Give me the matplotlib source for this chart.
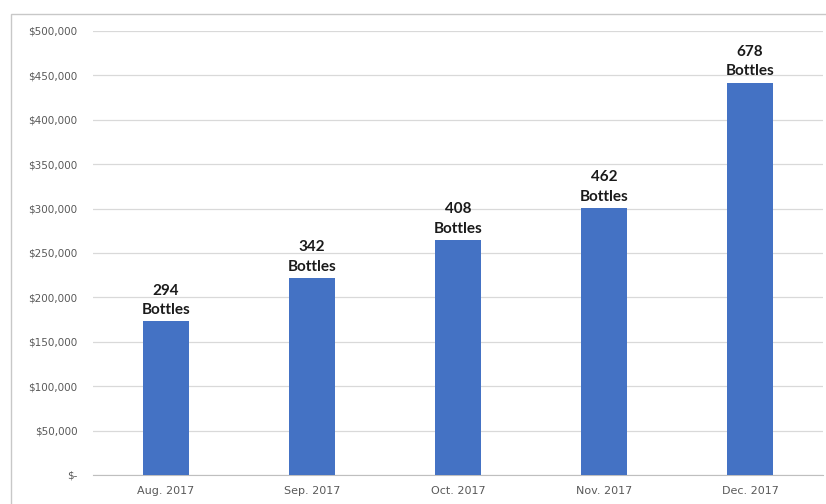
import matplotlib
matplotlib.use("Agg")
import matplotlib.pyplot as plt
from matplotlib.patches import Rectangle
from matplotlib.ticker import FuncFormatter

months = ["Aug. 2017", "Sep. 2017", "Oct. 2017", "Nov. 2017", "Dec. 2017"]
revenue = [173000, 222000, 265000, 301000, 442000]
bottles = [294, 342, 408, 462, 678]

BAR_COLOR = "#4472C4"
TEXT_GRAY = "#595959"
GRID_GRAY = "#d9d9d9"


def money(v, pos):
    if v == 0:
        return "$-"
    return f"${v:,.0f}"


fig = plt.figure(figsize=(8.26, 5.04), dpi=100)
ax = fig.add_axes([93 / 826, 29 / 504, 730 / 826, 444 / 504])

x = range(len(months))
bars = ax.bar(x, revenue, width=0.31, color=BAR_COLOR, zorder=3)

for rect, n in zip(bars, bottles):
    ax.annotate(f"{n}\nBottles", (rect.get_x() + rect.get_width() / 2, rect.get_height()),
                xytext=(0, 3), textcoords="offset points", ha="center", va="bottom",
                fontsize=11, fontweight="bold", family="Lato", color="#1a1a1a",
                linespacing=1.5)

ax.set_xlim(-0.5, len(months) - 0.5)
ax.set_ylim(0, 500000)
ax.set_yticks(range(0, 500001, 50000))
ax.yaxis.set_major_formatter(FuncFormatter(money))
ax.set_xticks(list(x))
ax.set_xticklabels(months)

ax.grid(axis="y", color=GRID_GRAY, linewidth=0.9, zorder=0)
for side in ["top", "right", "left"]:
    ax.spines[side].set_visible(False)
ax.spines["bottom"].set_color("#bfbfbf")
ax.tick_params(axis="both", length=0, labelcolor=TEXT_GRAY)
ax.tick_params(axis="y", pad=11, labelsize=7.5)
ax.tick_params(axis="x", pad=8, labelsize=8)

# chart area border (cropped at right and bottom)
fig.patches.append(Rectangle((11 / 826, -0.05), 1.0, 1 - 14 / 504 + 0.05,
                             transform=fig.transFigure, fill=False,
                             edgecolor="#c8c8c8", linewidth=1.0))

fig.savefig("out.png", dpi=100)
